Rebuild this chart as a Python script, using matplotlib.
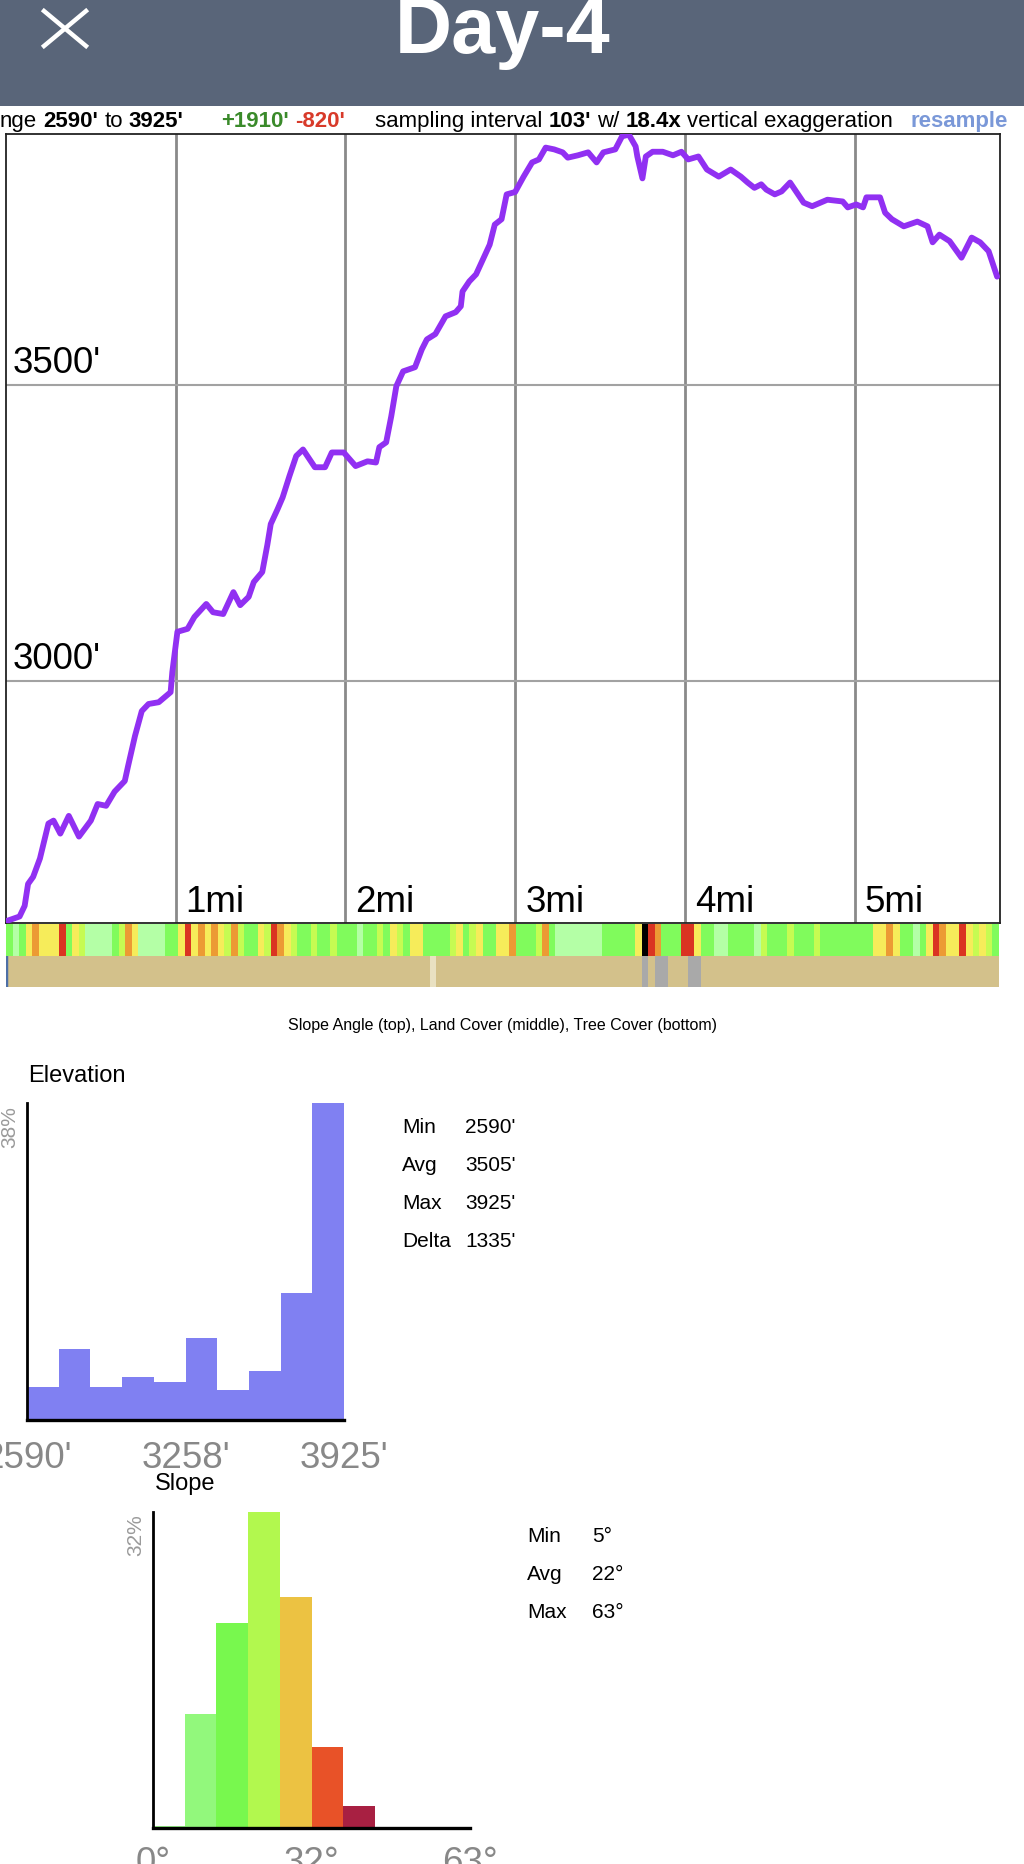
import matplotlib
matplotlib.use("Agg")
import matplotlib.pyplot as plt
import numpy as np
from matplotlib.colors import to_rgb
from matplotlib.lines import Line2D
from matplotlib.patches import Rectangle

plt.rcParams["font.family"] = ["Liberation Sans", "DejaVu Sans"]

W, H = 1024, 1865

# --- elevation profile (miles, feet) ---
DIST_MI = [
    0.00, 0.08, 0.11, 0.13, 0.16, 0.20, 0.25, 0.28, 0.32, 0.37, 0.43, 0.50,
    0.54, 0.59, 0.64, 0.70, 0.72, 0.76, 0.80, 0.84, 0.90, 0.97, 0.98, 1.01,
    1.07, 1.11, 1.18, 1.22, 1.28, 1.34, 1.38, 1.43, 1.46, 1.51, 1.54, 1.56,
    1.60, 1.63, 1.67, 1.71, 1.75, 1.82, 1.88, 1.92, 1.99, 2.06, 2.13, 2.18,
    2.20, 2.24, 2.27, 2.30, 2.34, 2.41, 2.45, 2.48, 2.53, 2.59, 2.65, 2.68,
    2.69, 2.73, 2.77, 2.81, 2.85, 2.88, 2.92, 2.95, 3.00, 3.05, 3.10, 3.14,
    3.18, 3.23, 3.28, 3.31, 3.37, 3.43, 3.48, 3.52, 3.59, 3.63, 3.67, 3.71,
    3.72, 3.75, 3.77, 3.81, 3.87, 3.93, 3.98, 4.02, 4.08, 4.13, 4.20, 4.27,
    4.33, 4.37, 4.41, 4.45, 4.48, 4.53, 4.57, 4.62, 4.66, 4.70, 4.75, 4.80,
    4.84, 4.93, 4.96, 5.01, 5.05, 5.07, 5.15, 5.18, 5.22, 5.29, 5.37, 5.43,
    5.46, 5.50, 5.56, 5.63, 5.69, 5.74, 5.79, 5.84,
]
ELEV_FT = [
    2594, 2602, 2620, 2657, 2669, 2700, 2759, 2764, 2742, 2772, 2737, 2764,
    2792, 2789, 2813, 2831, 2857, 2907, 2949, 2961, 2964, 2981, 3015, 3083,
    3088, 3108, 3130, 3116, 3113, 3150, 3128, 3142, 3167, 3184, 3230, 3265,
    3290, 3310, 3346, 3380, 3391, 3361, 3361, 3386, 3386, 3363, 3371, 3369,
    3395, 3403, 3447, 3498, 3523, 3530, 3560, 3577, 3586, 3616, 3623, 3633,
    3658, 3675, 3687, 3712, 3737, 3771, 3780, 3822, 3826, 3852, 3876, 3881,
    3901, 3898, 3893, 3884, 3888, 3893, 3876, 3893, 3898, 3920, 3923, 3903,
    3886, 3849, 3886, 3894, 3894, 3888, 3894, 3881, 3886, 3864, 3852, 3864,
    3852, 3842, 3833, 3839, 3830, 3822, 3827, 3842, 3825, 3808, 3802, 3808,
    3813, 3810, 3800, 3805, 3800, 3817, 3817, 3791, 3780, 3768, 3776, 3768,
    3741, 3754, 3743, 3715, 3749, 3741, 3726, 3683,
]
MILE_MARKS = [1, 2, 3, 4, 5]
MILE_LABELS = ["1mi", "2mi", "3mi", "4mi", "5mi"]
ELEV_GRID = [3000, 3500]
ELEV_GRID_LABELS = ["3000'", "3500'"]
X_MAX_MI = 5.857
Y_RANGE_FT = (2591, 3924)

# --- slope / tree cover strips, one character per cell along the track ---
SLOPE_BAND = (
    "GLGyOyyyRG" "yYLLLLGYOy" "LLLLGGyRyO" "yOyYOYGGyY" "ROyYGGYGGY"
    "GGGLGGYGyY" "GyyGGGGYyG" "YyGGyyOGGG" "YOGLLLLLLL" "GGGGGyKROG"
    "GGRRyGGLLG" "GGGLYGGGYG" "GGYGGGGGGG" "GyyOyGGLGy" "ROyyRyYyYG"
)
SLOPE_COLORS = {
    "L": "#b4ffa6", "G": "#80fb5c", "Y": "#c6fb52", "y": "#f6ec5a",
    "O": "#ec9a34", "R": "#da3422", "K": "#000000",
}
TREE_BAND = (
    "tttttttttt" "tttttttttt" "tttttttttt" "tttttttttt" "tttttttttt"
    "tttttttttt" "ttttpttttt" "tttttttttt" "tttttttttt" "ttttttgtgg"
    "tttggttttt" "tttttttttt" "tttttttttt" "tttttttttt" "tttttttttt"
)
TREE_COLORS = {"t": "#d3c18b", "g": "#a9a9a9", "p": "#e9e1c2"}

# --- histograms ---
ELEV_HIST_PCT = [3.9, 8.5, 3.9, 5.1, 4.5, 9.8, 3.6, 5.9, 15.2, 38.0]
ELEV_HIST_MAX = 38
ELEV_TICKS = ["2590'", "3258'", "3925'"]
ELEV_STATS = [("Min", "2590'"), ("Avg", "3505'"), ("Max", "3925'"), ("Delta", "1335'")]

SLOPE_HIST_PCT = [0.2, 11.5, 20.8, 32.0, 23.4, 8.2, 2.2, 0.0, 0.0, 0.0]
SLOPE_HIST_COLORS = ["#9cf88c", "#92f87c", "#78f84e", "#b2f84e", "#ecc242",
                     "#e85228", "#a82042", "#a82042", "#a82042", "#a82042"]
SLOPE_HIST_MAX = 32
SLOPE_TICKS = ["0°", "32°", "63°"]
SLOPE_STATS = [("Min", "5°"), ("Avg", "22°"), ("Max", "63°")]

# summary line: groups of (text, colour, weight) pieces and each group's start x
SUMMARY = [
    (0, [("nge", "black", "normal"), ("2590'", "black", "bold"),
         ("to", "black", "normal"), ("3925'", "black", "bold")]),
    (221, [("+1910'", "#3a8a2a", "bold"), ("-820'", "#d83a2a", "bold")]),
    (375, [("sampling interval", "black", "normal"), ("103'", "black", "bold"),
           ("w/", "black", "normal"), ("18.4x", "black", "bold"),
           ("vertical exaggeration", "black", "normal")]),
    (910, [("resample", "#7a98d8", "bold")]),
]


def rect(left, top, right, bottom):
    """Pixel box (from top-left) -> figure fraction rect."""
    return [left / W, 1 - bottom / H, (right - left) / W, (bottom - top) / H]


def ftext(fig, x, y, s, **kw):
    return fig.text(x / W, 1 - y / H, s, **kw)


def strip(ax, codes, palette):
    rgb = np.array([[to_rgb(palette[c]) for c in codes]])
    ax.imshow(rgb, aspect="auto", interpolation="nearest",
              extent=(0, len(codes), 0, 1))
    ax.set_axis_off()


def histogram(ax, values, colors, ymax, ticklabels, tick_offset):
    idx = np.arange(len(values))
    ax.bar(idx, values, width=1.0, align="edge", color=colors, linewidth=0)
    ax.set_xlim(0, len(values))
    ax.set_ylim(0, ymax)
    for side in ("top", "right"):
        ax.spines[side].set_visible(False)
    ax.spines["left"].set_linewidth(2.0)
    ax.spines["bottom"].set_linewidth(2.4)
    ax.set_xticks([])
    ax.set_yticks([])
    ax.set_facecolor("none")
    for pos, lab in zip([0, len(values) / 2, len(values)], ticklabels):
        ax.annotate(lab, xy=(pos, 0), xycoords=("data", "axes fraction"),
                    xytext=(0, tick_offset), textcoords="offset pixels",
                    ha="center", va="baseline", fontsize=26.5, color="#888888",
                    annotation_clip=False)


fig = plt.figure(figsize=(W / 100, H / 100), dpi=100)
fig.patch.set_facecolor("white")
renderer = fig.canvas.get_renderer()

# header bar
fig.add_artist(Rectangle((0, 1 - 107 / H), 1, 107 / H, transform=fig.transFigure,
                         facecolor="#596579", edgecolor="none", zorder=0))
ftext(fig, 503, 53, "Day-4", ha="center", va="baseline", fontsize=57,
      fontweight="bold", color="white")
for (x0, y0, x1, y1) in [(44, 12, 86, 47), (86, 12, 44, 47)]:
    fig.add_artist(Line2D([x0 / W, x1 / W], [1 - y0 / H, 1 - y1 / H],
                          transform=fig.transFigure, color="white", lw=3.2))

# summary line under the header, pieces laid out one after another
space_px = 16 * 100 / 72 * 0.278
for x_start, pieces in SUMMARY:
    x = x_start
    for s, c, wgt in pieces:
        t = ftext(fig, x, 127, s, ha="left", va="baseline", fontsize=16,
                  color=c, fontweight=wgt)
        x += t.get_window_extent(renderer).width + space_px

# main elevation profile
ax = fig.add_axes(rect(6, 135, 1000, 924))
for m in MILE_MARKS:
    ax.axvline(m, color="#8a8a8a", lw=2.0, zorder=1)
for e in ELEV_GRID:
    ax.axhline(e, color="#a2a2a2", lw=1.5, zorder=1)
ax.plot(DIST_MI, ELEV_FT, color="#9130f2", lw=4.2, solid_joinstyle="round",
        solid_capstyle="round", zorder=3)
ax.set_xlim(0, X_MAX_MI)
ax.set_ylim(*Y_RANGE_FT)
ax.set_xticks([])
ax.set_yticks([])
for sp in ax.spines.values():
    sp.set_color("#222222")
    sp.set_linewidth(1.3)
for e, lab in zip(ELEV_GRID, ELEV_GRID_LABELS):
    ax.annotate(lab, xy=(0, e), xycoords=("axes fraction", "data"),
                xytext=(7, 13), textcoords="offset pixels",
                ha="left", va="baseline", fontsize=26.5, color="black")
for m, lab in zip(MILE_MARKS, MILE_LABELS):
    ax.annotate(lab, xy=(m, 0), xycoords=("data", "axes fraction"),
                xytext=(10, 12), textcoords="offset pixels",
                ha="left", va="baseline", fontsize=26.5, color="black")

# slope angle and tree cover strips
ax_slope = fig.add_axes(rect(6, 925, 999, 957))
strip(ax_slope, SLOPE_BAND, SLOPE_COLORS)
ax_tree = fig.add_axes(rect(6, 957, 999, 988))
strip(ax_tree, TREE_BAND, TREE_COLORS)
ax_tree.axvline(0, color="#4d6fa6", lw=2.5)

ftext(fig, 503, 1030, "Slope Angle (top), Land Cover (middle), Tree Cover (bottom)",
      ha="center", va="baseline", fontsize=11.5, color="black")

# elevation histogram
ftext(fig, 28, 1082, "Elevation", ha="left", va="baseline", fontsize=17)
ax_eh = fig.add_axes(rect(27, 1104, 344, 1421))
histogram(ax_eh, ELEV_HIST_PCT, "#8080f2", ELEV_HIST_MAX, ELEV_TICKS, -47)
ftext(fig, 10, 1106, f"{ELEV_HIST_MAX}%", rotation=90, ha="center", va="top",
      fontsize=15, color="#9a9a9a")
for i, (k, v) in enumerate(ELEV_STATS):
    ftext(fig, 402, 1133 + i * 38, k, ha="left", va="baseline", fontsize=15)
    ftext(fig, 465, 1133 + i * 38, v, ha="left", va="baseline", fontsize=15)

# slope histogram
ftext(fig, 155, 1490, "Slope", ha="left", va="baseline", fontsize=17)
ax_sh = fig.add_axes(rect(153, 1513, 470, 1829))
histogram(ax_sh, SLOPE_HIST_PCT, SLOPE_HIST_COLORS, SLOPE_HIST_MAX, SLOPE_TICKS, -44)
ftext(fig, 136, 1514, f"{SLOPE_HIST_MAX}%", rotation=90, ha="center", va="top",
      fontsize=15, color="#9a9a9a")
for i, (k, v) in enumerate(SLOPE_STATS):
    ftext(fig, 527, 1542 + i * 38, k, ha="left", va="baseline", fontsize=15)
    ftext(fig, 592, 1542 + i * 38, v, ha="left", va="baseline", fontsize=15)

fig.savefig("out.png", dpi=100)
